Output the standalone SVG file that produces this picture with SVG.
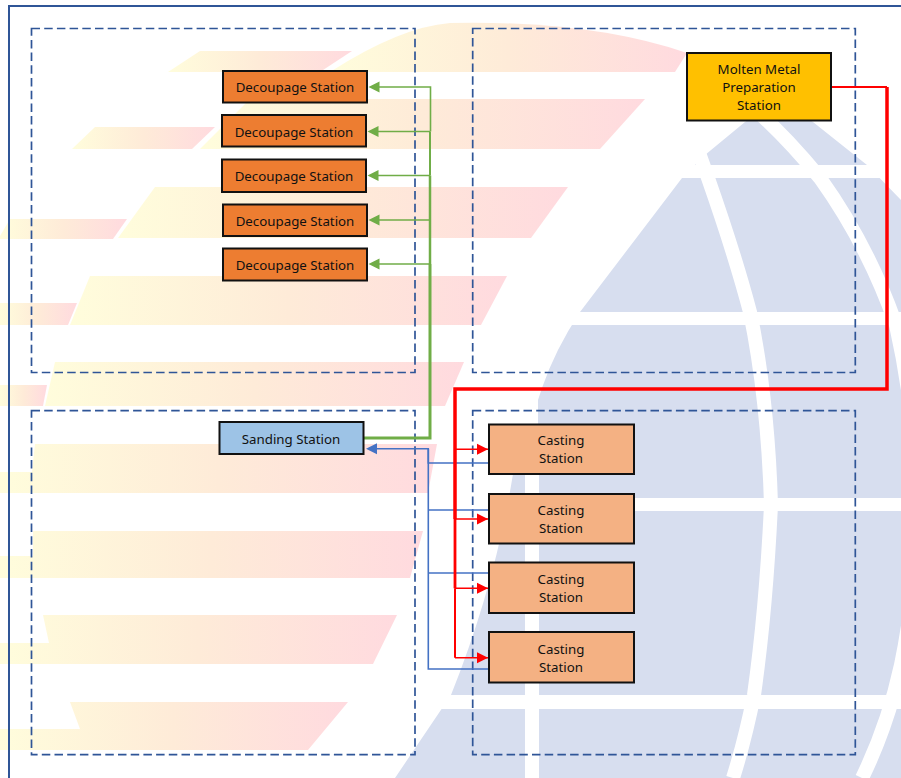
<svg xmlns="http://www.w3.org/2000/svg" width="901" height="778" viewBox="0 0 901 778">
<style>
.band{fill:url(#bandGrad)}
.gap{fill:#fff}
.mer{fill:none;stroke:#fff;stroke-width:14}
.zone{fill:none;stroke:#2F5597;stroke-width:1.7;stroke-dasharray:8.5 4.2}
.node{stroke:#111;stroke-width:2}
.dec{fill:#ED7D31}.cast{fill:#F4B183}.sand{fill:#9DC3E6}.melt{fill:#FFC000}
text{font-family:"Noto Sans","Open Sans","Liberation Sans",sans-serif;font-size:13.3px;fill:#111;text-anchor:middle}
.c{fill:none;stroke-width:1.6}
.g{stroke:#70AD47}.b{stroke:#4472C4}.r{stroke:#FF0000}
</style>
<defs>
<linearGradient id="bandGrad" x1="0" y1="0" x2="1" y2="0">
<stop offset="0" stop-color="#FFFDDC"/><stop offset="0.5" stop-color="#FEEBD8"/><stop offset="1" stop-color="#FFDADF"/>
</linearGradient>
<marker id="ar" markerUnits="userSpaceOnUse" markerWidth="11" markerHeight="12" refX="11" refY="6" orient="auto"><path d="M0,0.5 L11,6 L0,11.5 Z" fill="#FF0000"/></marker>
</defs>
<rect width="901" height="778" fill="#fff"/>
<g id="background">
<path d="M395,778 L451,695 Q495,585 513,474 L526,440 L538,440 L538,400 L542,388 Q555,350 580,312 L682,178 L705,155 L745,122 L780,100 L813,122 L867,165 L901,200 L901,778 Z" fill="#D7DEEF"/>
<path class="mer" d="M532,430 V778"/>
<path class="mer" d="M698,150 L708,178 Q735,255 750,312 Q768,400 771,505 Q766,610 754,695 Q745,740 733,778"/>
<path class="mer" d="M750,105 Q785,135 820,178 Q868,245 896,325 Q935,500 901,665 Q888,725 862,778"/>
<rect class="gap" x="400" y="165" width="501" height="13"/>
<rect class="gap" x="400" y="312" width="501" height="13"/>
<rect class="gap" x="400" y="498" width="501" height="13"/>
<rect class="gap" x="400" y="695" width="501" height="14"/>
<path class="band" d="M168,72 L200,51 H352 L320,72 Z"/>
<path class="band" d="M330,72 Q400,27 450,23 Q590,20 687,53 L675,72 Z"/>
<path class="band" d="M72,149 L95,127 H215 L192,149 Z"/>
<path class="band" d="M200,149 L250,99 H645 L600,149 Z"/>
<path class="band" d="M0,239 L0,236 L10,219 H127 L113,239 Z"/>
<path class="band" d="M118,238 L155,187 H568 L531,238 Z"/>
<path class="band" d="M0,303 H77 L68,325 H0 Z"/>
<path class="band" d="M70,325 L90,276 H507 L481,325 Z"/>
<path class="band" d="M0,385 H47 L43,406 H0 Z"/>
<path class="band" d="M45,406 L55,362 H464 L445,406 Z"/>
<path class="band" d="M35,444 H437 L428,493 H0 V472 H32 Z"/>
<path class="band" d="M33,531 H423 L410,578 H0 V556 H33 Z"/>
<path class="band" d="M43,615 H397 L373,664 H0 V643 H49 Z"/>
<path class="band" d="M70,702 H348 L308,750 H0 V729 H80 Z"/>
</g>
<g id="frame"><path d="M9,778 V6 H901" fill="none" stroke="#2F5597" stroke-width="2"/></g>
<g id="zones">
<rect class="zone" x="31.500" y="28.500" width="383.500" height="344"/>
<rect class="zone" x="472.700" y="28.500" width="382.600" height="344"/>
<rect class="zone" x="31.500" y="410.600" width="383.500" height="344"/>
<rect class="zone" x="472.700" y="410.600" width="382.600" height="344"/>
</g>
<g id="connectors">
<g class="c g">
<path d="M430.500,131.500 V87 H379"/>
<path d="M430,131.500 H378"/>
<path d="M430,175.500 H378"/>
<path d="M430,220 H379"/>
<path d="M430,264 H379"/>
<path d="M430,131.500 V175.500" stroke-width="2"/>
<path d="M430,175.500 V264" stroke-width="2.500"/>
<path d="M363,438 H430 V264" stroke-width="3"/>
</g>
<g fill="#70AD47">
<path d="M368.500,87 L379.500,81.500 V92.500 Z"/>
<path d="M367.500,131.500 L378.500,126 V137 Z"/>
<path d="M367.500,175.500 L378.500,170 V181 Z"/>
<path d="M368.500,220 L379.500,214.500 V225.500 Z"/>
<path d="M368.500,264 L379.500,258.500 V269.500 Z"/>
</g>
<g class="c b">
<path d="M489,463 H428.300 V448.700 H376"/>
<path d="M489,510 H428.300"/>
<path d="M489,573 H428.300"/>
<path d="M489,669 H428.300 V448.700"/>
</g>
<path d="M366,448.700 L377,443.200 V454.200 Z" fill="#4472C4"/>
<g class="c r">
<path d="M455,449.300 H488" marker-end="url(#ar)"/>
<path d="M455,519 H488" marker-end="url(#ar)"/>
<path d="M455,588.300 H488" marker-end="url(#ar)"/>
<path d="M455,657.700 H488" marker-end="url(#ar)"/>
<path d="M831,87 H887" stroke-width="2"/>
<path d="M887,87 V389 H455 V519" stroke-width="3.500"/>
<path d="M455,519 V588.300" stroke-width="2.800"/>
<path d="M455,588.300 V657.700" stroke-width="2"/>
</g>
</g>
<g id="dec1"><rect class="node dec" x="223" y="71" width="144" height="31.500"/><text x="295" y="92">Decoupage Station</text></g>
<g id="dec2"><rect class="node dec" x="222" y="115" width="144" height="31.500"/><text x="294" y="137">Decoupage Station</text></g>
<g id="dec3"><rect class="node dec" x="222" y="159.500" width="144" height="32.500"/><text x="294" y="181">Decoupage Station</text></g>
<g id="dec4"><rect class="node dec" x="223" y="204.500" width="144" height="31.500"/><text x="295" y="225.500">Decoupage Station</text></g>
<g id="dec5"><rect class="node dec" x="223" y="248.500" width="144" height="32"/><text x="295" y="270">Decoupage Station</text></g>
<g id="melt"><rect class="node melt" x="687" y="53" width="144" height="67.500"/><text x="759" y="74">Molten Metal</text><text x="759" y="92">Preparation</text><text x="759" y="110">Station</text></g>
<g id="sand"><rect class="node sand" x="219.500" y="422" width="144" height="32"/><text x="291" y="444">Sanding Station</text></g>
<g id="cast1"><rect class="node cast" x="489" y="424.500" width="145" height="49.500"/><text x="561" y="445">Casting</text><text x="561" y="463">Station</text></g>
<g id="cast2"><rect class="node cast" x="489" y="494" width="145" height="49.500"/><text x="561" y="515">Casting</text><text x="561" y="533">Station</text></g>
<g id="cast3"><rect class="node cast" x="489" y="562.500" width="145" height="50.500"/><text x="561" y="584">Casting</text><text x="561" y="602">Station</text></g>
<g id="cast4"><rect class="node cast" x="489" y="632" width="145" height="50.500"/><text x="561" y="654">Casting</text><text x="561" y="672">Station</text></g>
</svg>
